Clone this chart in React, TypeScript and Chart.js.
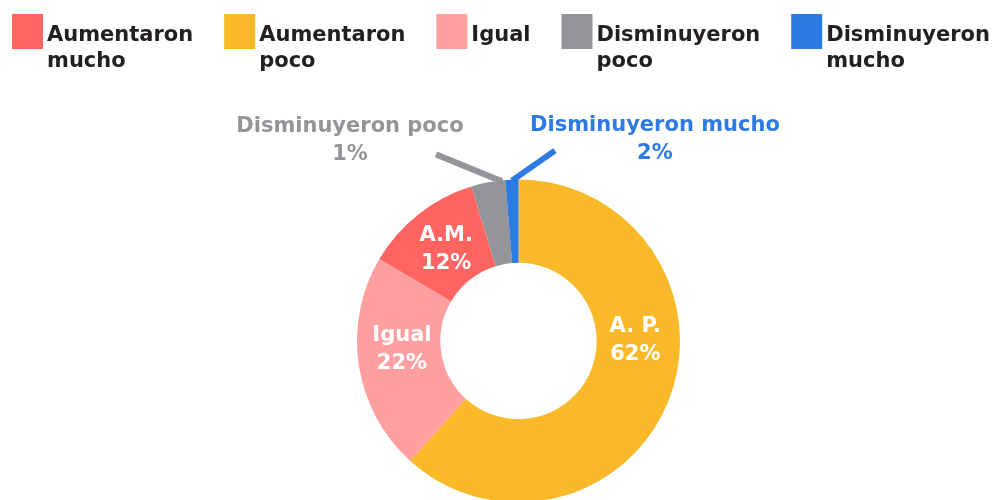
import React, { useEffect, useRef } from "react";
import { Chart, ArcElement, DoughnutController } from "chart.js";

Chart.register(ArcElement, DoughnutController);

// Slices in drawing order (clockwise from 12 o'clock)
const categories = ["Aumentaron poco", "Igual", "Aumentaron mucho", "Disminuyeron poco", "Disminuyeron mucho"];
const values = [61.6, 21.7, 11.8, 3.4, 1.3];
const colors = ["#F9B928", "#FF9F9F", "#FF6460", "#949599", "#2D7AE5"];
const sliceNames = ["A. P.", "Igual", "A.M.", "Disminuyeron poco", "Disminuyeron mucho"];
const percentLabels = ["62%", "22%", "12%", "1%", "2%"];
// Legend order (indices into the arrays above) and its wrapped text
const legendOrder = [2, 0, 1, 3, 4];
const legendLines = [["Aumentaron", "poco"], ["Igual"], ["Aumentaron", "mucho"], ["Disminuyeron", "poco"], ["Disminuyeron", "mucho"]];

const FONT = "'DejaVu Sans', sans-serif";

const sliceLabelPlugin = {
  id: "sliceLabels",
  afterDatasetsDraw(chart: any, _args: any, opts: any) {
    const meta = chart.getDatasetMeta(0);
    const ctx = chart.ctx as CanvasRenderingContext2D;
    ctx.save();
    ctx.textAlign = "center";
    ctx.textBaseline = "middle";
    ctx.font = `bold 21px ${FONT}`;
    meta.data.forEach((arc: any, i: number) => {
      const p = arc.getProps(["x", "y", "startAngle", "endAngle", "innerRadius", "outerRadius"], true);
      const cfg = opts.items[i] || {};
      const lines = [sliceNames[i], percentLabels[i]];
      if (cfg.type === "outside") {
        const a = p.startAngle + (p.endAngle - p.startAngle) * cfg.t;
        const r = p.outerRadius - 1;
        const sx = p.x + Math.cos(a) * r;
        const sy = p.y + Math.sin(a) * r;
        const ex = sx + cfg.line[0];
        const ey = sy + cfg.line[1];
        ctx.strokeStyle = colors[i];
        ctx.lineWidth = 6;
        ctx.lineCap = "butt";
        ctx.beginPath();
        ctx.moveTo(sx, sy);
        ctx.lineTo(ex, ey);
        ctx.stroke();
        const tx = ex + cfg.text[0];
        const ty = ey + cfg.text[1];
        ctx.fillStyle = colors[i];
        ctx.fillText(lines[0], tx, ty - 14);
        ctx.fillText(lines[1], tx, ty + 14);
      } else {
        const a = cfg.angleDeg != null ? (cfg.angleDeg - 90) * Math.PI / 180 : (p.startAngle + p.endAngle) / 2;
        const r = (p.innerRadius + p.outerRadius) / 2 - 3;
        const cx = p.x + Math.cos(a) * r;
        const cy = p.y + Math.sin(a) * r;
        ctx.fillStyle = "#ffffff";
        ctx.fillText(lines[0], cx, cy - 14);
        ctx.fillText(lines[1], cx, cy + 14);
      }
    });
    ctx.restore();
  },
};

const topLegendPlugin = {
  id: "topLegend",
  afterDraw(chart: any, _args: any, opts: any) {
    const ctx = chart.ctx as CanvasRenderingContext2D;
    ctx.save();
    ctx.font = `bold 21px ${FONT}`;
    ctx.textAlign = "left";
    ctx.textBaseline = "alphabetic";
    const boxW = 31, boxH = 35, gap = 4;
    const widths = legendOrder.map((idx) => {
      const tw = Math.max(...legendLines[idx].map((l) => ctx.measureText(l).width));
      return boxW + gap + tw;
    });
    const total = widths.reduce((s, w) => s + w, 0);
    const left = opts.left, right = opts.right;
    const spacing = (right - left - total) / (legendOrder.length - 1);
    let x = left;
    legendOrder.forEach((idx, k) => {
      ctx.fillStyle = colors[idx];
      ctx.fillRect(x, opts.top, boxW, boxH);
      ctx.fillStyle = "#231F20";
      legendLines[idx].forEach((line, li) => {
        ctx.fillText(line, x + boxW + gap, opts.top + 27 + li * 26);
      });
      x += widths[k] + spacing;
    });
    ctx.restore();
  },
};

export default function App() {
  const canvasRef = useRef<HTMLCanvasElement | null>(null);

  useEffect(() => {
    if (!canvasRef.current) return;
    const chart = new Chart(canvasRef.current, {
      type: "doughnut",
      data: {
        labels: categories,
        datasets: [
          {
            data: values,
            backgroundColor: colors,
            borderWidth: 0,
          },
        ],
      },
      options: {
        responsive: false,
        animation: false,
        cutout: "48.4%",
        rotation: 0,
        layout: { padding: { left: 357, right: 313, top: 179, bottom: 17 } },
        plugins: {
          legend: { display: false },
          tooltip: { enabled: false },
          sliceLabels: {
            items: [
              { type: "inside", angleDeg: 90 },
              { type: "inside", angleDeg: 266 },
              { type: "inside" },
              { type: "outside", t: 0.9, line: [-66, -27], text: [-86, -14] },
              { type: "outside", t: 0.5, line: [43, -30], text: [100, -11] },
            ],
          },
          topLegend: { left: 12, right: 990, top: 14 },
        } as any,
      },
      plugins: [sliceLabelPlugin, topLegendPlugin],
    });
    return () => chart.destroy();
  }, []);

  return (
    <div style={{ position: "fixed", left: 0, top: 0, width: 993, height: 520, background: "#ffffff" }}>
      <canvas ref={canvasRef} width={993} height={520} style={{ display: "block" }} />
    </div>
  );
}
